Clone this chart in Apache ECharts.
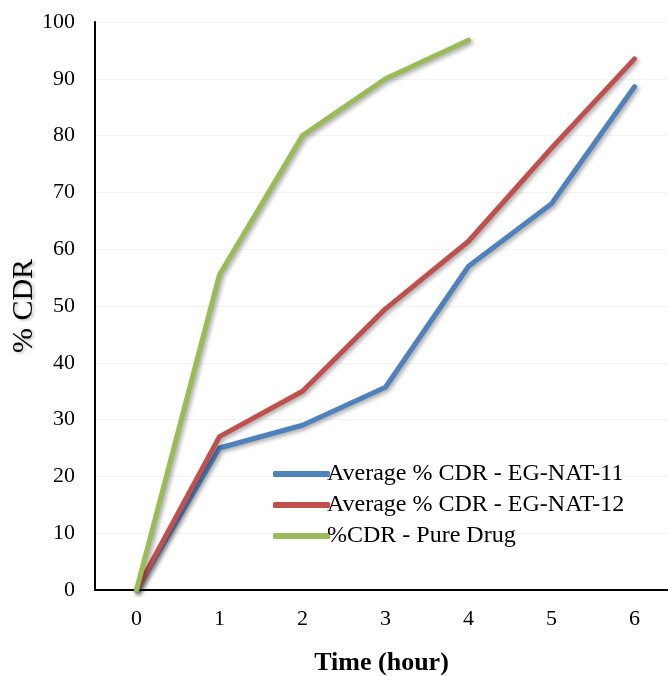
<!DOCTYPE html>
<html><head><meta charset="utf-8">
<script src="https://cdn.jsdelivr.net/npm/echarts@6/dist/echarts.min.js"></script>
<style>html,body{margin:0;padding:0;background:#fff}#c{width:668px;height:676px}</style>
</head><body><div id="c"></div>
<script>
var categories = ['0','1','2','3','4','5','6'];
var nat11 = [0, 25, 29, 35.7, 57, 68, 88.6];
var nat12 = [0, 27, 35, 49.5, 61.4, 77.8, 93.5];
var pure = [0, 55.5, 80, 90, 96.8];
var names = ['Average % CDR - EG-NAT-11', 'Average % CDR - EG-NAT-12', '%CDR - Pure Drug'];
var colors = ['#4F81BD', '#C0504D', '#9BBB59'];
var font = '"Liberation Serif", "Times New Roman", serif';
var chart = echarts.init(document.getElementById('c'), null, {renderer: 'canvas'});
function mk(name, data, color) {
  return {
    name: name, type: 'line', data: data, symbol: 'none', clip: false,
    lineStyle: {width: 5, color: color, cap: 'round', join: 'round',
      shadowColor: 'rgba(0,0,0,0.35)', shadowBlur: 4, shadowOffsetX: 2, shadowOffsetY: 2},
    itemStyle: {color: color}
  };
}
chart.setOption({
  animation: false,
  backgroundColor: '#fff',
  grid: {left: 95, top: 22, height: 568, width: 581, containLabel: false, outerBoundsMode: 'none'},
  legend: {
    orient: 'vertical', left: 268, top: 457, itemGap: 7,
    itemWidth: 57, itemHeight: 6, icon: 'roundRect',
    textStyle: {fontFamily: font, fontSize: 24, color: '#000', padding: [0,0,0,-8]},
    data: names
  },
  xAxis: {
    type: 'category', data: categories, boundaryGap: true,
    name: 'Time (hour)', nameLocation: 'middle', nameGap: 60, nameMoveOverlap: false,
    nameTextStyle: {fontFamily: font, fontSize: 26, fontWeight: 'bold', color: '#000', padding: [0,0,0,-8]},
    axisLine: {lineStyle: {color: '#000', width: 2}},
    axisTick: {show: false},
    axisLabel: {fontFamily: font, fontSize: 22, color: '#000', margin: 18},
    splitLine: {show: false}
  },
  yAxis: {
    type: 'value', min: 0, max: 100, interval: 10,
    name: '% CDR', nameLocation: 'middle', nameGap: 56, nameRotate: 90, nameMoveOverlap: false,
    nameTextStyle: {fontFamily: font, fontSize: 30, color: '#000',
      textShadowColor: 'rgba(0,0,0,0.3)', textShadowBlur: 3, textShadowOffsetX: 2, textShadowOffsetY: 1},
    axisLine: {show: true, lineStyle: {color: '#000', width: 2}},
    axisTick: {show: false},
    axisLabel: {fontFamily: font, fontSize: 22, color: '#000', margin: 20},
    splitLine: {show: true, lineStyle: {color: '#f4f4f4', width: 1}}
  },
  series: [mk(names[0], nat11, colors[0]), mk(names[1], nat12, colors[1]), mk(names[2], pure, colors[2])]
});
</script></body></html>
